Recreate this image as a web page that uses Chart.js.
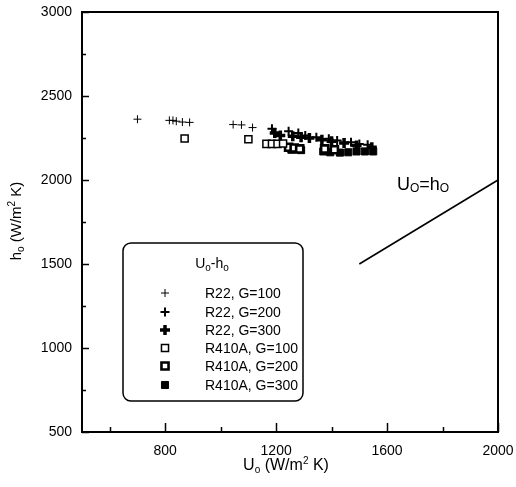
<!DOCTYPE html>
<html><head><meta charset="utf-8">
<script src="https://cdn.jsdelivr.net/npm/chart.js@4"></script>
<style>html,body{margin:0;padding:0;background:#fff}</style>
</head><body>
<canvas id="c" width="516" height="487" style="display:block;width:516px;height:487px"></canvas>
<script>
// ---- data ----
const xTickValues = [600, 800, 1000, 1200, 1400, 1600, 1800, 2000];
const xTickLabels = [800, 1200, 1600, 2000];
const yTickValues = [500, 750, 1000, 1250, 1500, 1750, 2000, 2250, 2500, 2750, 3000];
const yTickLabels = [500, 1000, 1500, 2000, 2500, 3000];

const r22g100U = [700, 815, 828, 840, 862, 888, 1045, 1075, 1115];
const r22g100H = [2362, 2355, 2355, 2350, 2345, 2343, 2330, 2328, 2312];
const r22g200U = [1185, 1245, 1280, 1305, 1345, 1390, 1420, 1470, 1500, 1530];
const r22g200H = [2305, 2290, 2280, 2265, 2255, 2245, 2235, 2225, 2215, 2210];
const r22g300U = [1195, 1215, 1260, 1290, 1320, 1365, 1400, 1445, 1490, 1545];
const r22g300H = [2280, 2265, 2260, 2255, 2250, 2240, 2230, 2220, 2205, 2195];
const r410g100U = [870, 1100, 1165, 1185, 1205, 1225];
const r410g100H = [2247, 2243, 2215, 2215, 2215, 2217];
const r410g200U = [1245, 1265, 1285, 1375, 1410];
const r410g200H = [2195, 2190, 2185, 2185, 2180];
const r410g300U = [1255, 1290, 1370, 1395, 1430, 1460, 1490, 1520, 1550];
const r410g300H = [2180, 2178, 2170, 2165, 2163, 2165, 2170, 2170, 2170];
const equalLineU = [1500, 2000];
const equalLineH = [1500, 2000];

const seriesLabels = ['R22, G=100', 'R22, G=200', 'R22, G=300', 'R410A, G=100', 'R410A, G=200', 'R410A, G=300'];

const zip = (a, b) => a.map((v, i) => ({x: v, y: b[i]}));
const FONT = '"Liberation Sans", Arial, sans-serif';

const datasets = [
  {label: seriesLabels[0], data: zip(r22g100U, r22g100H), pointStyle: 'cross', pointRadius: 4, pointBorderWidth: 1},
  {label: seriesLabels[1], data: zip(r22g200U, r22g200H), pointStyle: 'cross', pointRadius: 4.5, pointBorderWidth: 2},
  {label: seriesLabels[2], data: zip(r22g300U, r22g300H), pointStyle: 'cross', pointRadius: 5, pointBorderWidth: 3.5},
  {label: seriesLabels[3], data: zip(r410g100U, r410g100H), pointStyle: 'rect', pointRadius: 5, pointBorderWidth: 1.5, pointBackgroundColor: '#fff'},
  {label: seriesLabels[4], data: zip(r410g200U, r410g200H), pointStyle: 'rect', pointRadius: 5, pointBorderWidth: 2.6, pointBackgroundColor: '#fff'},
  {label: seriesLabels[5], data: zip(r410g300U, r410g300H), pointStyle: 'rect', pointRadius: 5, pointBorderWidth: 1, pointBackgroundColor: '#000'},
].map(d => Object.assign({borderColor: '#000', pointBorderColor: '#000', showLine: false, pointHoverRadius: d.pointRadius}, d));

datasets.push({label: 'Uo=ho', data: zip(equalLineU, equalLineH), showLine: true, borderColor: '#000', borderWidth: 1.6, pointRadius: 0, isLine: true});

function richWidth(ctx, parts) {
  let w = 0;
  parts.forEach(p => { ctx.font = p.s + 'px ' + FONT; w += ctx.measureText(p.t).width; });
  return w;
}
function drawRich(ctx, parts, x, y, align) {
  const w = richWidth(ctx, parts);
  let cx = align === 'center' ? x - w / 2 : x;
  ctx.textAlign = 'left';
  ctx.textBaseline = 'alphabetic';
  parts.forEach(p => {
    ctx.font = p.s + 'px ' + FONT;
    ctx.fillText(p.t, cx, y + (p.dy || 0));
    cx += ctx.measureText(p.t).width;
  });
}

const decor = {
  id: 'decor',
  afterDatasetsDraw(chart) {
    const ctx = chart.ctx, a = chart.chartArea;
    const xs = chart.scales.x, ys = chart.scales.y;
    ctx.save();
    ctx.strokeStyle = '#000';
    ctx.fillStyle = '#000';
    ctx.lineWidth = 2;
    ctx.strokeRect(a.left, a.top, a.right - a.left, a.bottom - a.top);
    ctx.lineWidth = 1.5;
    ctx.beginPath();
    xTickValues.forEach(v => {
      const px = Math.round(xs.getPixelForValue(v)) + 0.5;
      const len = xTickLabels.includes(v) ? 9 : 5;
      ctx.moveTo(px, a.bottom); ctx.lineTo(px, a.bottom - len);
    });
    yTickValues.forEach(v => {
      const py = Math.round(ys.getPixelForValue(v)) + 0.5;
      const len = yTickLabels.includes(v) ? 7 : 4;
      ctx.moveTo(a.left, py); ctx.lineTo(a.left + len, py);
    });
    ctx.stroke();

    drawRich(ctx, [{t: 'U', s: 16}, {t: 'o', s: 10, dy: 3}, {t: ' (W/m', s: 16}, {t: '2', s: 10, dy: -6}, {t: ' K)', s: 16}], 286, 470, 'center');
    ctx.save();
    ctx.translate(21, 221);
    ctx.rotate(-Math.PI / 2);
    drawRich(ctx, [{t: 'h', s: 15}, {t: 'o', s: 10, dy: 3}, {t: ' (W/m', s: 15}, {t: '2', s: 10, dy: -6}, {t: ' K)', s: 15}], 0, 0, 'center');
    ctx.restore();

    drawRich(ctx, [{t: 'U', s: 18}, {t: 'O', s: 12, dy: 2}, {t: '=h', s: 18}, {t: 'O', s: 12, dy: 2}], 397, 190, 'left');

    const L = 123, T = 243, R = 303, B = 401, rad = 8;
    ctx.lineWidth = 1.5;
    ctx.beginPath();
    ctx.moveTo(L + rad, T);
    ctx.arcTo(R, T, R, B, rad);
    ctx.arcTo(R, B, L, B, rad);
    ctx.arcTo(L, B, L, T, rad);
    ctx.arcTo(L, T, R, T, rad);
    ctx.closePath();
    ctx.fillStyle = '#fff';
    ctx.fill();
    ctx.stroke();
    ctx.fillStyle = '#000';
    drawRich(ctx, [{t: 'U', s: 14}, {t: 'o', s: 10, dy: 3}, {t: '-h', s: 14}, {t: 'o', s: 10, dy: 3}], 212, 268, 'center');
    const rows = [293, 312, 330, 348, 366, 385];
    chart.data.datasets.forEach((ds, i) => {
      if (ds.isLine) return;
      const y = rows[i];
      ctx.lineWidth = ds.pointBorderWidth;
      ctx.strokeStyle = '#000';
      ctx.fillStyle = ds.pointBackgroundColor || '#000';
      Chart.helpers.drawPoint(ctx, {pointStyle: ds.pointStyle, radius: ds.pointRadius, rotation: 0, borderWidth: ds.pointBorderWidth}, 165, y);
      ctx.fillStyle = '#000';
      ctx.font = '14px ' + FONT;
      ctx.textAlign = 'left';
      ctx.textBaseline = 'middle';
      ctx.fillText(ds.label, 205, y + 1);
    });
    ctx.restore();
  }
};

const noPad = s => { s.paddingLeft = 0; s.paddingRight = 0; s.paddingTop = 0; s.paddingBottom = 0; };

new Chart(document.getElementById('c'), {
  type: 'scatter',
  data: {datasets},
  options: {
    responsive: false,
    animation: false,
    devicePixelRatio: 1,
    layout: {padding: {top: 12, right: 18, left: 0, bottom: 0}},
    plugins: {legend: {display: false}, tooltip: {enabled: false}},
    scales: {
      x: {
        type: 'linear', min: 500, max: 2000,
        afterBuildTicks: s => { s.ticks = xTickValues.map(v => ({value: v})); },
        afterFit: s => { s.height = 55; noPad(s); },
        grid: {display: false, drawTicks: false},
        border: {display: false},
        ticks: {
          autoSkip: false, maxRotation: 0, padding: 11, color: '#000',
          font: {family: FONT, size: 14},
          callback: v => xTickLabels.includes(v) ? String(v) : ''
        }
      },
      y: {
        type: 'linear', min: 500, max: 3000,
        afterBuildTicks: s => { s.ticks = yTickValues.map(v => ({value: v})); },
        afterFit: s => { s.width = 82; noPad(s); },
        grid: {display: false, drawTicks: false},
        border: {display: false},
        ticks: {
          autoSkip: false, padding: 10, color: '#000',
          font: {family: FONT, size: 14},
          callback: v => yTickLabels.includes(v) ? String(v) : ''
        }
      }
    }
  },
  plugins: [decor]
});
</script>
</body></html>
